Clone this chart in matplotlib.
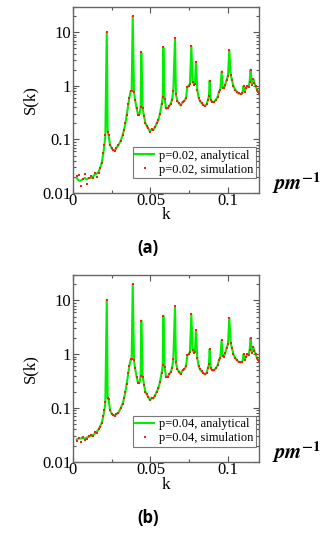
import matplotlib
matplotlib.use("Agg")
import matplotlib.pyplot as plt
from matplotlib.ticker import FixedLocator, FixedFormatter, LogLocator, NullFormatter

# -------------------------------
# Data
# -------------------------------
k = [0.0026, 0.0039, 0.0051, 0.0064, 0.0077, 0.0090, 0.0103, 0.0116, 0.0129, 0.0141,
     0.0154, 0.0167, 0.0176, 0.0186, 0.0197, 0.0204, 0.0210, 0.0219, 0.0225, 0.0231,
     0.0240, 0.0251, 0.0261, 0.0270, 0.0279, 0.0294, 0.0309, 0.0321, 0.0330, 0.0339,
     0.0347, 0.0358, 0.0364, 0.0373, 0.0379, 0.0386, 0.0394, 0.0401, 0.0411, 0.0420,
     0.0429, 0.0437, 0.0441, 0.0450, 0.0459, 0.0467, 0.0476, 0.0486, 0.0497, 0.0508,
     0.0519, 0.0529, 0.0540, 0.0551, 0.0561, 0.0572, 0.0579, 0.0583, 0.0591, 0.0600,
     0.0611, 0.0621, 0.0630, 0.0639, 0.0647, 0.0658, 0.0664, 0.0673, 0.0684, 0.0694,
     0.0707, 0.0718, 0.0729, 0.0737, 0.0746, 0.0754, 0.0763, 0.0771, 0.0780, 0.0786,
     0.0793, 0.0801, 0.0810, 0.0819, 0.0829, 0.0840, 0.0851, 0.0861, 0.0870, 0.0876,
     0.0881, 0.0887, 0.0898, 0.0909, 0.0921, 0.0932, 0.0941, 0.0949, 0.0958, 0.0964,
     0.0973, 0.0981, 0.0990, 0.0999, 0.1007, 0.1016, 0.1024, 0.1033, 0.1044, 0.1054,
     0.1067, 0.1080, 0.1091, 0.1099, 0.1106, 0.1114, 0.1123, 0.1131, 0.1138, 0.1144,
     0.1153, 0.1161, 0.1168, 0.1176, 0.1185, 0.1193, 0.1200]

# shared part of S(k) for k > 0.031 (both panels look the same there)
s_tail = [0.12, 0.15, 0.20,
          0.28, 0.45, 0.60, 0.80, 0.80, 20.0, 0.78, 0.55, 0.38, 0.29,
          0.29, 0.40, 4.2, 0.38, 0.27, 0.20, 0.18, 0.16, 0.14, 0.155,
          0.15, 0.17, 0.20, 0.23, 0.30, 0.45, 0.62, 5.2, 0.58, 0.38,
          0.38, 0.42, 0.46, 0.55, 0.80, 7.7, 0.70, 0.52, 0.47, 0.43,
          0.50, 0.52, 0.60, 0.95, 1.0, 1.1, 5.5, 1.2, 1.05, 1.1,
          2.8, 0.85, 0.60, 0.52, 0.48, 0.44, 0.42, 0.45, 0.55, 0.65,
          1.25, 0.55, 0.50, 0.50, 0.55, 0.62, 0.78, 0.85, 1.85, 0.92,
          0.90, 1.05, 1.3, 1.55, 4.7, 1.6, 1.3, 1.0, 0.85, 0.78,
          0.72, 0.70, 0.72, 1.0, 0.78, 0.90, 1.0, 0.95, 1.2, 2.0,
          1.05, 1.35, 1.15, 1.0, 0.85, 0.78, 0.75]

# low-k part, p = 0.02
ana_low_02 = [0.019, 0.017, 0.017, 0.018, 0.019, 0.018, 0.019, 0.019, 0.020, 0.022,
              0.023, 0.025, 0.029, 0.036, 0.055, 0.080, 0.12, 10.2, 0.14, 0.12,
              0.080, 0.068, 0.063, 0.062, 0.068, 0.078, 0.095]
sim_low_02 = [0.021, 0.022, 0.0135, 0.018, 0.023, 0.015, 0.019, 0.021, 0.019, 0.024,
              0.020, 0.024, 0.029, 0.036, 0.055, 0.080, 0.12, 10.2, 0.14, 0.12,
              0.080, 0.068, 0.063, 0.062, 0.068, 0.078, 0.095]

# low-k part, p = 0.04
ana_low_04 = [0.026, 0.027, 0.027, 0.028, 0.027, 0.028, 0.029, 0.030, 0.031, 0.033,
              0.036, 0.040, 0.045, 0.052, 0.070, 0.090, 0.13, 10.2, 0.15, 0.145,
              0.090, 0.078, 0.073, 0.072, 0.076, 0.082, 0.100]
sim_low_04 = [0.024, 0.028, 0.023, 0.029, 0.025, 0.027, 0.030, 0.031, 0.030, 0.035,
              0.034, 0.041, 0.045, 0.052, 0.070, 0.090, 0.13, 10.2, 0.15, 0.145,
              0.090, 0.078, 0.073, 0.072, 0.076, 0.082, 0.100]

panels = [
    ("0.02", ana_low_02 + s_tail, sim_low_02 + s_tail, "(a)"),
    ("0.04", ana_low_04 + s_tail, sim_low_04 + s_tail, "(b)"),
]

ytick_vals = [0.01, 0.1, 1, 10]
ytick_labels = ["0.01", "0.1", "1", "10"]
xtick_vals = [0, 0.05, 0.1]
xtick_labels = ["0", "0.05", "0.1"]

# -------------------------------
# Figure
# -------------------------------
plt.rcParams["mathtext.fontset"] = "stix"
serif = "Liberation Serif"

W, H = 332, 536
fig = plt.figure(figsize=(W / 100, H / 100), dpi=100)

# axes boxes in pixels: left, top, right, bottom
boxes = [(72.7, 6.7, 259.3, 193.0), (72.7, 274.7, 259.3, 461.7)]
label_y = [(215, 183, 248), (485, 452, 518)]

for (p, ana, sim, tag), (l, t, r, b), (ky, py, ty) in zip(panels, boxes, label_y):
    ax = fig.add_axes([l / W, 1 - b / H, (r - l) / W, (b - t) / H])
    ax.plot(k, ana, color="#00ee00", lw=1.5, label="p=%s, analytical" % p, zorder=2)
    ax.plot(k, sim, ls="none", marker="s", ms=2.0, color="#ff1a1a", mew=0,
            label="p=%s, simulation" % p, zorder=3)
    ax.set_yscale("log")
    ax.set_xlim(0, 0.12)
    ax.set_ylim(0.01, 30)

    ax.yaxis.set_major_locator(FixedLocator(ytick_vals))
    ax.yaxis.set_major_formatter(FixedFormatter(ytick_labels))
    ax.yaxis.set_minor_locator(LogLocator(base=10, subs=range(2, 10)))
    ax.yaxis.set_minor_formatter(NullFormatter())
    ax.xaxis.set_major_locator(FixedLocator(xtick_vals))
    ax.xaxis.set_major_formatter(FixedFormatter(xtick_labels))
    ax.xaxis.set_minor_locator(FixedLocator([0.025, 0.075]))

    ax.tick_params(which="both", direction="in", top=True, right=True,
                   color="#555555", width=0.8)
    ax.tick_params(which="major", length=4, labelsize=12)
    ax.tick_params(which="minor", length=2.5)
    ax.tick_params(axis="x", which="major", pad=0)
    ax.tick_params(axis="y", which="major", pad=1)
    for lab in ax.get_xticklabels() + ax.get_yticklabels():
        lab.set_fontfamily(serif)
    for sp in ax.spines.values():
        sp.set_color("#666666")
        sp.set_linewidth(1.0)

    leg = ax.legend(loc="lower right", bbox_to_anchor=(0.982, 0.08), borderaxespad=0,
                    prop={"family": serif, "size": 9}, frameon=True, fancybox=False,
                    handlelength=1.5, handletextpad=0.4, borderpad=0.2,
                    labelspacing=0.15, markerscale=1.0)
    leg.get_frame().set_edgecolor("#555555")
    leg.get_frame().set_linewidth(0.8)

    fig.text(30 / W, 1 - (t + b) / 2 / H, "S(k)", family=serif, fontsize=12,
             rotation=90, ha="center", va="center")
    fig.text(166 / W, 1 - ky / H, "k", family=serif, fontsize=12.5,
             ha="center", va="center")
    fig.text(296 / W, 1 - py / H, r"$\mathbfit{pm}^{\mathbf{-1}}$", fontsize=15,
             ha="center", va="center")
    fig.text(148 / W, 1 - ty / H, tag, family="Open Sans", fontweight="bold",
             fontsize=12, ha="center", va="center")

fig.savefig("out.png", dpi=100)
